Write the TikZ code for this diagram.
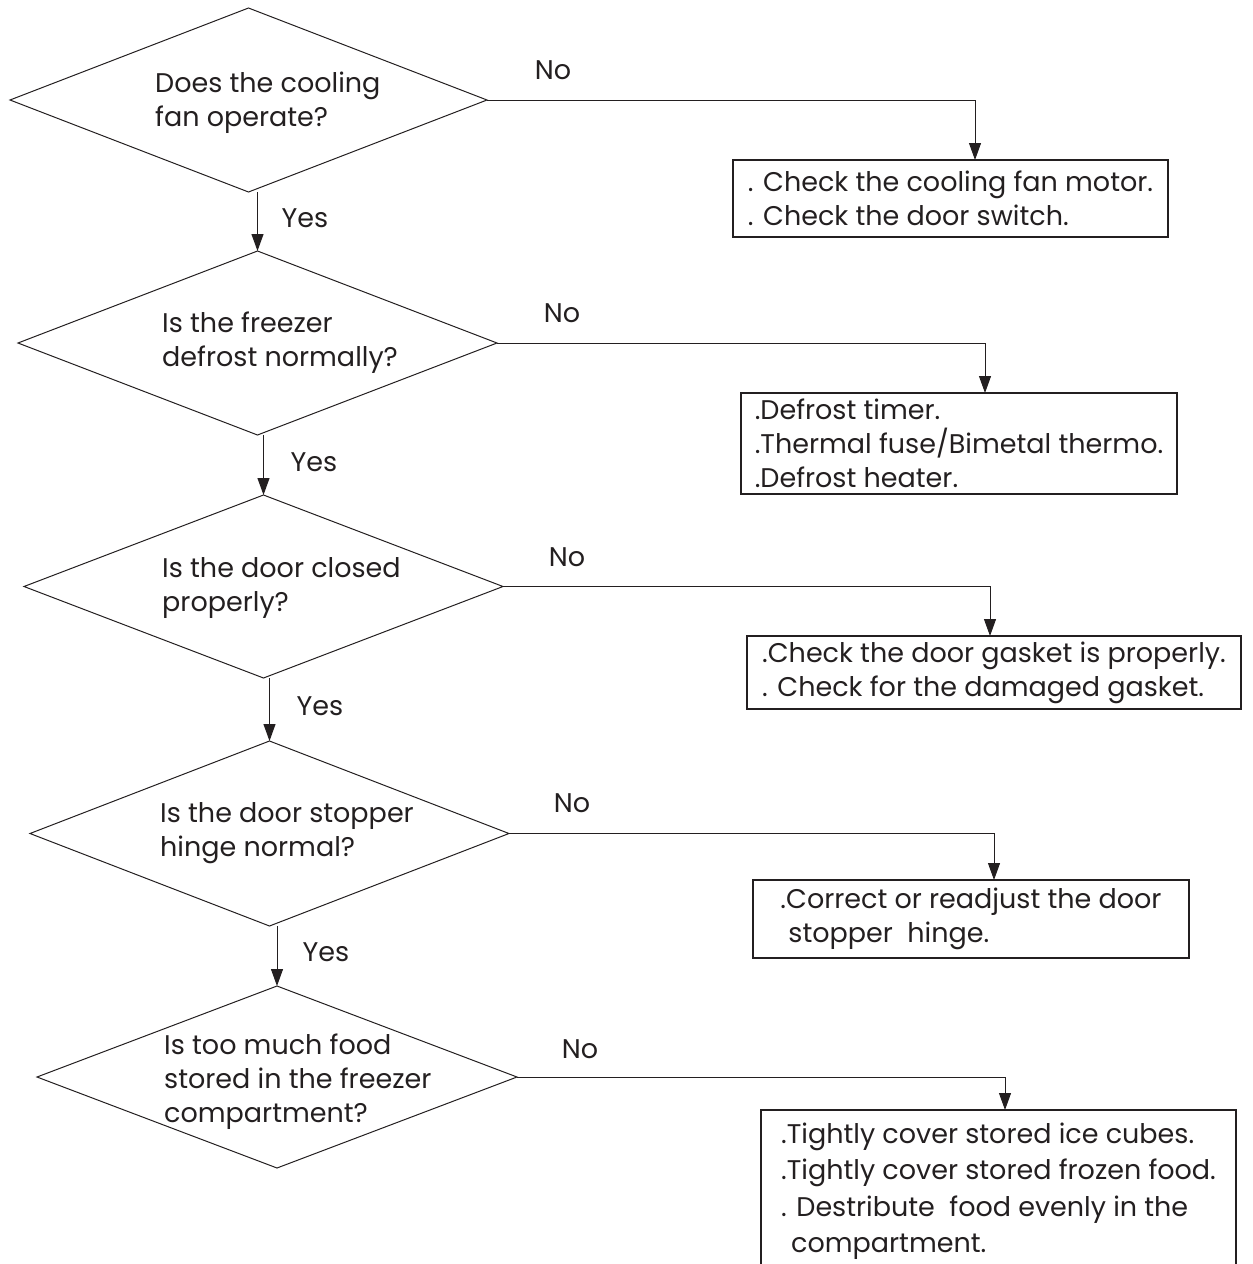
\documentclass[tikz,border=0pt]{standalone}
\usepackage{fontspec}
\setmainfont{Poppins}
\usetikzlibrary{shapes.geometric,arrows.meta}
\definecolor{ink}{HTML}{231F20}
\begin{document}
\begin{tikzpicture}[x=1pt,y=-1pt,
  every node/.style={text=ink},
  dia/.style={draw=ink, shape=diamond, inner sep=0pt, outer sep=0pt, line width=1pt},
  txt/.style={font=\fontsize{27}{34}\selectfont},
  box/.style={draw=ink, rectangle, line width=1.1pt, align=left, inner sep=0pt, outer sep=0pt, anchor=north west, txt},
  qtext/.style={anchor=west, align=left, inner sep=0pt, txt},
  lbl/.style={inner sep=0pt, txt},
  arr/.style={draw=ink, line width=1pt, -{Triangle[length=17pt,width=12pt]}}
]
\useasboundingbox (0,0) rectangle (1253,1264);
\clip (0,0) rectangle (1253,1264);

% decisions
\node[dia, minimum width=477pt, minimum height=184pt] (d1) at (248.5,100) {};
\node[dia, minimum width=479pt, minimum height=184pt] (d2) at (257.5,343) {};
\node[dia, minimum width=479pt, minimum height=183pt] (d3) at (263.5,586.5) {};
\node[dia, minimum width=479pt, minimum height=185pt] (d4) at (269.5,833.5) {};
\node[dia, minimum width=480pt, minimum height=182pt] (d5) at (277,1077) {};

\node[qtext] (t1) at (155,102.5) {Does the cooling\\fan operate?};
\node[qtext] (t2) at (162,343) {Is the freezer\\defrost normally?};
\node[qtext] (t3) at (162,588.5) {Is the door closed\\properly?};
\node[qtext] (t4) at (160,833) {Is the door stopper\\hinge normal?};
\node[qtext] (t5) at (164,1082) {Is too much food\\stored in the freezer\\compartment?};

% result boxes
\node[box, minimum width=435pt, minimum height=77pt] (b1) at (733,160)
  {. Check the cooling fan motor.\\. Check the door switch.};
\node[box, minimum width=436pt, minimum height=101pt] (b2) at (741,393)
  {.Defrost timer.\\.Thermal fuse/Bimetal thermo.\\.Defrost heater.};
\node[box, minimum width=494pt, minimum height=73pt] (b3) at (747,636)
  {.Check the door gasket is properly.\\. Check for the damaged gasket.};
\node[box, minimum width=436pt, minimum height=78pt] (b4) at (753,880)
  {.Correct or readjust the door\\\hspace{8pt}stopper\ \ hinge.};
\node[box, minimum width=475pt, minimum height=162pt, font=\fontsize{27}{36.5}\selectfont] (b5) at (761,1110)
  {.Tightly cover stored ice cubes.\\.Tightly cover stored frozen food.\\. Destribute\ \ food evenly in the\\\hspace{10pt}compartment.};
\draw[draw=ink, line width=1.1pt] (b5.south west) -- ++(0,12) (b5.south east) -- ++(0,12);

% yes arrows
\draw[arr] (d1.south -| d2.north) -- (d2.north);
\draw[arr] (d2.south -| d3.north) -- (d3.north);
\draw[arr] (d3.south -| d4.north) -- (d4.north);
\draw[arr] (d4.south -| d5.north) -- (d5.north);

% no arrows
\draw[arr] (d1.east) -| ([xshift=24.5pt]b1.north);
\draw[arr] (d2.east) -| ([xshift=26pt]b2.north);
\draw[arr] (d3.east) -| ([xshift=-4pt]b3.north);
\draw[arr] (d4.east) -| ([xshift=23pt]b4.north);
\draw[arr] (d5.east) -| ([xshift=6.5pt]b5.north);

% labels
\node[lbl] (n1) at (553,70) {No};
\node[lbl] (n2) at (562,313) {No};
\node[lbl] (n3) at (567,557) {No};
\node[lbl] (n4) at (572,803) {No};
\node[lbl] (n5) at (580,1049) {No};
\node[lbl] (y1) at (305,218) {Yes};
\node[lbl] (y2) at (314,462) {Yes};
\node[lbl] (y3) at (320,706) {Yes};
\node[lbl] (y4) at (326,952) {Yes};
\end{tikzpicture}
\end{document}
